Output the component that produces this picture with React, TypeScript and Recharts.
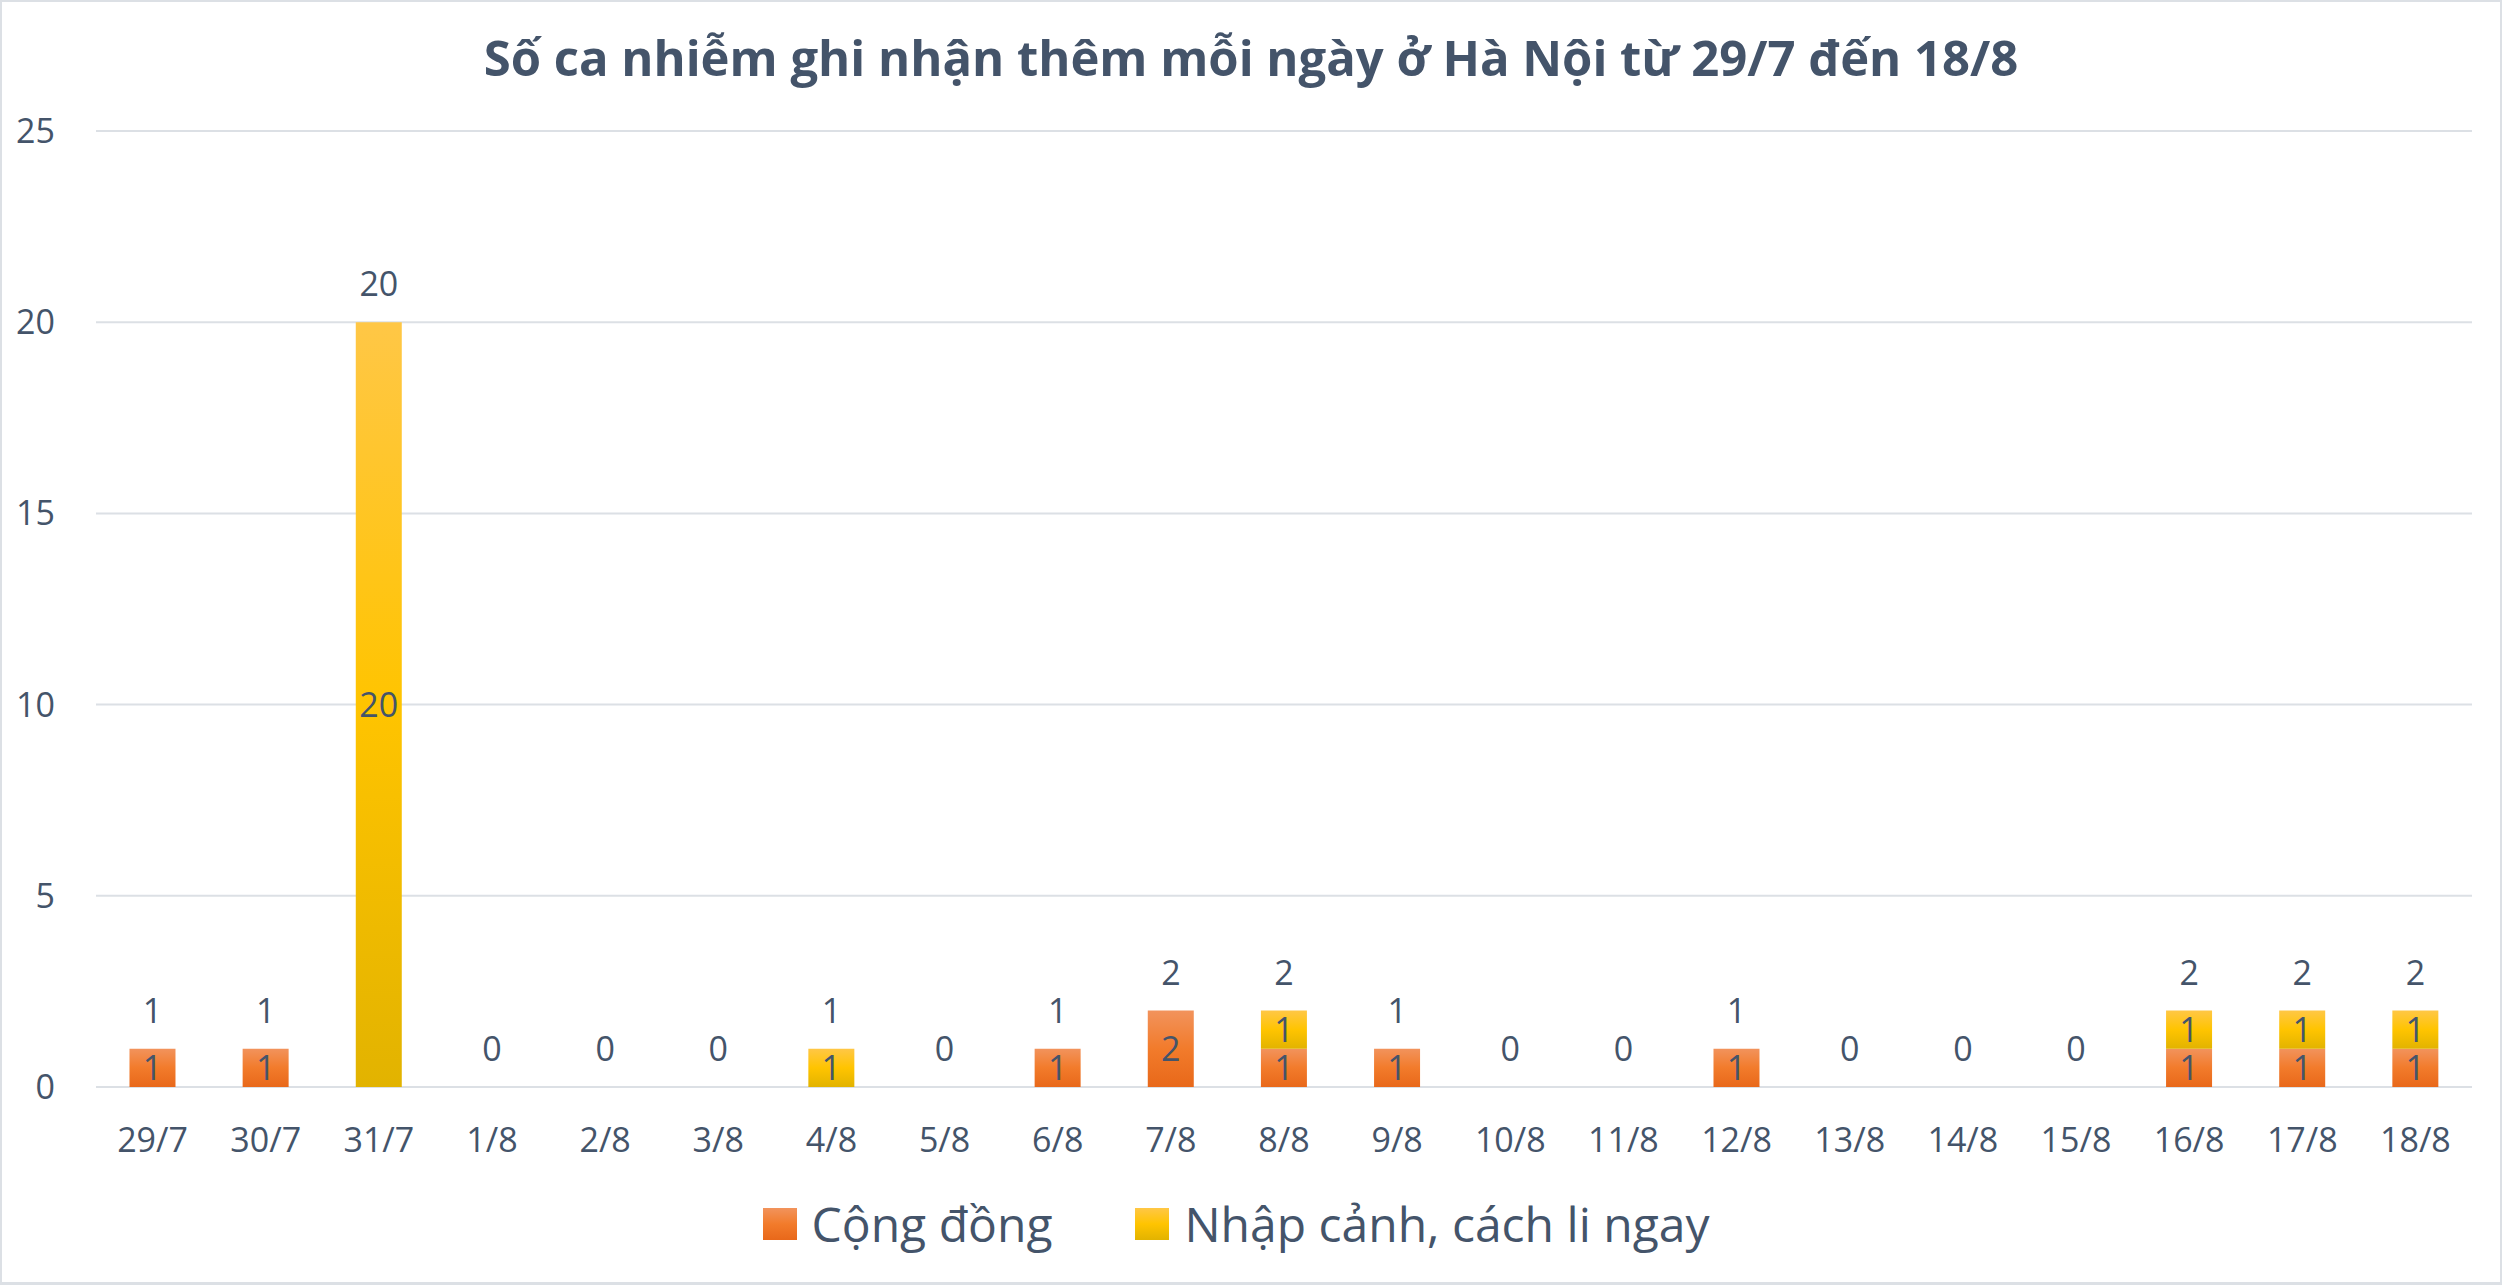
import { ComposedChart, Bar, Line, XAxis, YAxis, CartesianGrid, Legend, LabelList } from "recharts";

const days = [
  "29/7", "30/7", "31/7", "1/8", "2/8", "3/8", "4/8", "5/8", "6/8", "7/8", "8/8",
  "9/8", "10/8", "11/8", "12/8", "13/8", "14/8", "15/8", "16/8", "17/8", "18/8",
];
const congDong = [1, 1, 0, 0, 0, 0, 0, 0, 1, 2, 1, 1, 0, 0, 1, 0, 0, 0, 1, 1, 1];
const nhapCanh = [0, 0, 20, 0, 0, 0, 1, 0, 0, 0, 1, 0, 0, 0, 0, 0, 0, 0, 1, 1, 1];
const yTicks = [0, 5, 10, 15, 20, 25];

const seriesNames = { cong: "Cộng đồng", nhap: "Nhập cảnh, cách li ngay" };

const data = days.map((day, i) => ({
  day,
  cong: congDong[i],
  nhap: nhapCanh[i],
  total: congDong[i] + nhapCanh[i],
}));

const W = 2502;
const H = 1285;
const FONT = "'Open Sans', 'Noto Sans', sans-serif";
const TEXT = "#44546A";
const GRID = "#DCE0E5";

const legendSwatch: Record<string, string> = {
  cong: "linear-gradient(#F2935C, #F27B2B 50%, #E8681A)",
  nhap: "linear-gradient(#FFC746, #FFC400 50%, #E2B300)",
};

function LegendContent() {
  const items = [
    { key: "cong", label: seriesNames.cong },
    { key: "nhap", label: seriesNames.nhap },
  ];
  return (
    <div
      style={{
        display: "flex",
        justifyContent: "center",
        alignItems: "center",
        gap: 83,
        height: 60,
        fontFamily: FONT,
        fontSize: 48,
        color: TEXT,
      }}
    >
      {items.map((it) => (
        <div key={it.key} style={{ display: "flex", alignItems: "center", gap: 15 }}>
          <span style={{ width: 34, height: 32, background: legendSwatch[it.key], display: "inline-block" }} />
          <span style={{ lineHeight: "60px" }}>{it.label}</span>
        </div>
      ))}
    </div>
  );
}

const labelStyle = { fontSize: 34, fill: TEXT, fontFamily: FONT };

export default function App() {
  return (
    <div style={{ position: "absolute", left: 0, top: 0, width: W, height: H, background: "#fff" }}>
      <div
        style={{
          position: "absolute",
          left: 0,
          top: 33,
          width: W,
          textAlign: "center",
          fontFamily: FONT,
          fontWeight: 700,
          fontSize: 49,
          lineHeight: "49px",
          color: TEXT,
        }}
      >
        Số ca nhiễm ghi nhận thêm mỗi ngày ở Hà Nội từ 29/7 đến 18/8
      </div>

      <ComposedChart
        width={W}
        height={H}
        data={data}
        margin={{ top: 131, right: 30, left: 0, bottom: 31 }}
        barCategoryGap="29.6%"
        style={{ position: "absolute", left: 0, top: 0 }}
      >
        <defs>
          <linearGradient id="gradCong" x1="0" y1="0" x2="0" y2="1">
            <stop offset="0%" stopColor="#F2935C" />
            <stop offset="50%" stopColor="#F27B2B" />
            <stop offset="100%" stopColor="#E8681A" />
          </linearGradient>
          <linearGradient id="gradNhap" x1="0" y1="0" x2="0" y2="1">
            <stop offset="0%" stopColor="#FFC746" />
            <stop offset="50%" stopColor="#FFC400" />
            <stop offset="100%" stopColor="#E2B300" />
          </linearGradient>
        </defs>
        <CartesianGrid vertical={false} stroke={GRID} strokeWidth={2} />
        <XAxis
          dataKey="day"
          axisLine={false}
          tickLine={false}
          tickSize={0}
          tickMargin={41}
          height={107}
          interval={0}
          tick={{ fontSize: 34, fill: TEXT, fontFamily: FONT }}
        />
        <YAxis
          domain={[0, 25]}
          ticks={yTicks}
          axisLine={false}
          tickLine={false}
          tickSize={0}
          tickMargin={41}
          width={96}
          tick={{ fontSize: 34, fill: TEXT, fontFamily: FONT }}
        />
        <Legend verticalAlign="bottom" content={<LegendContent />} />
        <Bar dataKey="cong" name={seriesNames.cong} stackId="a" fill="url(#gradCong)" isAnimationActive={false}>
          <LabelList dataKey="cong" position="center" formatter={(v: number) => (v ? v : "")} style={labelStyle} />
        </Bar>
        <Bar dataKey="nhap" name={seriesNames.nhap} stackId="a" fill="url(#gradNhap)" isAnimationActive={false}>
          <LabelList dataKey="nhap" position="center" formatter={(v: number) => (v ? v : "")} style={labelStyle} />
        </Bar>
        <Line
          dataKey="total"
          stroke="none"
          dot={false}
          activeDot={false}
          legendType="none"
          isAnimationActive={false}
        >
          <LabelList dataKey="total" position="top" offset={26} style={labelStyle} />
        </Line>
      </ComposedChart>

      <div
        style={{
          position: "absolute",
          left: 0,
          top: 0,
          width: W,
          height: H,
          boxSizing: "border-box",
          borderStyle: "solid",
          borderColor: GRID,
          borderWidth: "2px 2px 3px 2px",
          pointerEvents: "none",
        }}
      />
    </div>
  );
}
